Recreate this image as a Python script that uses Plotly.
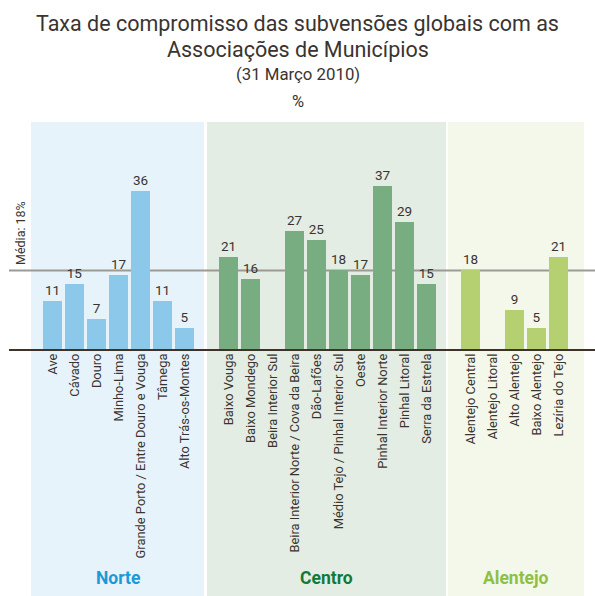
import plotly.graph_objects as go

# ---------------- data ----------------
norte_names = ["Ave", "Cávado", "Douro", "Minho-Lima",
               "Grande Porto / Entre Douro e Vouga", "Tâmega", "Alto Trás-os-Montes"]
norte_vals = [11, 15, 7, 17, 36, 11, 5]

centro_names = ["Baixo Vouga", "Baixo Mondego", "Beira Interior Sul",
                "Beira Interior Norte / Cova da Beira", "Dão-Lafões",
                "Médio Tejo / Pinhal Interior Sul", "Oeste", "Pinhal Interior Norte",
                "Pinhal Litoral", "Serra da Estrela"]
centro_vals = [21, 16, None, 27, 25, 18, 17, 37, 29, 15]

alentejo_names = ["Alentejo Central", "Alentejo Litoral", "Alto Alentejo",
                  "Baixo Alentejo", "Lezíria do Tejo"]
alentejo_vals = [18, None, 9, 5, 21]

regions = ["Norte", "Centro", "Alentejo"]
media = 18

# ---------------- styles ----------------
bar_colors = ["#8cc8ea", "#77ad81", "#b4d071"]
panel_colors = ["#e7f3fb", "#e3ede3", "#f4f8ea"]
region_text_colors = ["#1b9ad6", "#12793a", "#8dc044"]
FONT = "Roboto"
DARK = "#3a3430"

W, H = 595, 596
X0_PIX, STEP = 52.5, 22.0      # pixel position of first category and spacing
BASE_PIX, PPU = 350.0, 4.42     # baseline pixel row and pixels per unit

fig = go.Figure()

groups = [(norte_names, norte_vals), (centro_names, centro_vals), (alentejo_names, alentejo_vals)]
tickvals, ticktext = [], []
pos = 0
for gi, (names, vals) in enumerate(groups):
    xs = list(range(pos, pos + len(names)))
    fig.add_trace(go.Bar(
        x=xs, y=vals, width=0.865,
        marker=dict(color=bar_colors[gi], line=dict(width=0)),
        text=["" if v is None else str(v) for v in vals],
        textposition="outside", cliponaxis=False,
        textfont=dict(family=FONT, size=13.5, color=DARK),
        hoverinfo="skip", showlegend=False,
    ))
    tickvals += xs
    ticktext += names
    pos += len(names) + 1

xmin = -X0_PIX / STEP
xmax = (W - X0_PIX) / STEP
ymax = BASE_PIX / PPU
ymin = -(H - BASE_PIX) / PPU

def px2x(p):
    return (p - X0_PIX) / STEP

def py2y(p):
    return (BASE_PIX - p) / PPU

# background panels
panel_edges = [(31, 204), (207, 446), (448, 584)]
shapes = []
for gi, (a, b) in enumerate(panel_edges):
    shapes.append(dict(type="rect", xref="x", yref="y", x0=px2x(a), x1=px2x(b),
                       y0=py2y(596), y1=py2y(122), fillcolor=panel_colors[gi],
                       line=dict(width=0), layer="below"))
# average line (below bars)
shapes.append(dict(type="line", xref="x", yref="y", x0=px2x(9), x1=xmax,
                   y0=media, y1=media, line=dict(color="#9b9a95", width=2), layer="below"))
# baseline (above bars)
shapes.append(dict(type="line", xref="x", yref="y", x0=px2x(9), x1=xmax,
                   y0=0, y1=0, line=dict(color="#3d332b", width=2), layer="above"))

annotations = []
# title lines
title_lines = [("Taxa de compromisso das subvensões globais com as", 24, 21.5),
               ("Associações de Municípios", 49, 21.5),
               ("(31 Março 2010)", 74, 16.8),
               ("%", 101, 16.5)]
for txt, ypix, sz in title_lines:
    annotations.append(dict(text=txt, xref="paper", yref="paper", x=0.5, y=1 - ypix / H,
                            xanchor="center", yanchor="middle", showarrow=False,
                            font=dict(family=FONT, size=sz, color=DARK)))
# média label
annotations.append(dict(text=f"Média: {media}%", xref="x", yref="y", x=px2x(20),
                        y=py2y(267), xanchor="center", yanchor="bottom", textangle=-90,
                        showarrow=False, font=dict(family=FONT, size=12.5, color=DARK)))
# region labels
for gi, (a, b) in enumerate(panel_edges):
    annotations.append(dict(text=f"<b>{regions[gi]}</b>", xref="x", yref="y",
                            x=px2x((a + b) / 2), y=py2y(578), xanchor="center",
                            yanchor="middle", showarrow=False,
                            font=dict(family=FONT, size=17.5, color=region_text_colors[gi])))

fig.update_layout(
    width=W, height=H,
    margin=dict(l=0, r=0, t=0, b=0),
    paper_bgcolor="white", plot_bgcolor="white",
    bargap=0,
    shapes=shapes, annotations=annotations,
    xaxis=dict(range=[xmin, xmax], tickmode="array", tickvals=tickvals, ticktext=ticktext,
               tickangle=-90, showgrid=False, zeroline=False, showline=False, ticks="",
               anchor="free", position=(H - BASE_PIX) / H, automargin=False,
               tickfont=dict(family=FONT, size=12.9, color=DARK), fixedrange=True),
    yaxis=dict(range=[ymin, ymax], showgrid=False, zeroline=False, showline=False,
               showticklabels=False, ticks="", automargin=False, fixedrange=True),
    font=dict(family=FONT),
)

fig.write_html("out.html", config={"displayModeBar": False},
               post_script="document.body.style.margin='0';document.body.style.padding='0';")
